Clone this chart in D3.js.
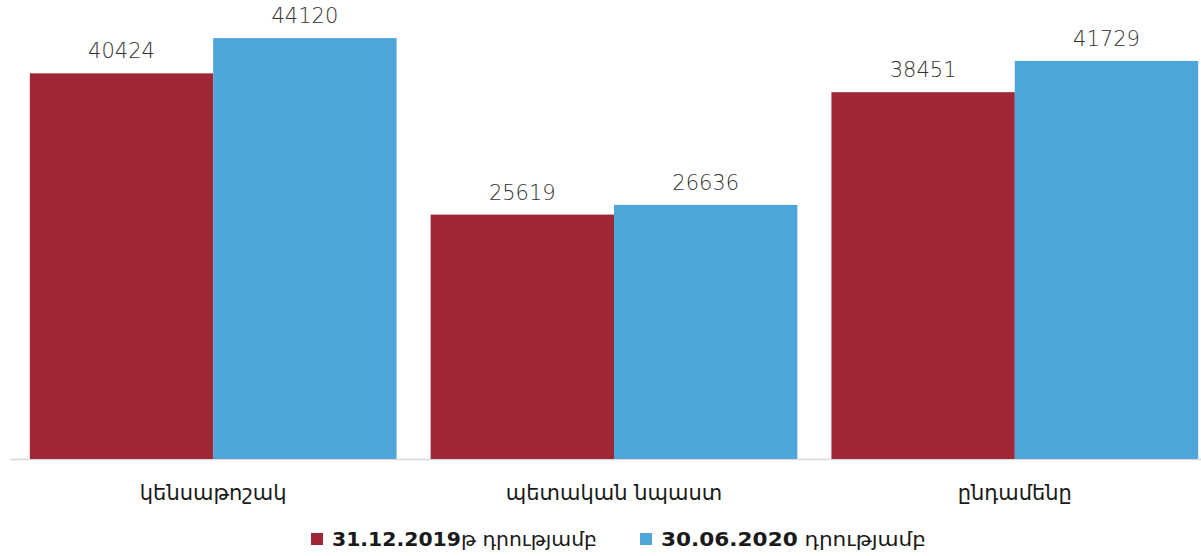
<!DOCTYPE html>
<html>
<head>
<meta charset="utf-8">
<script src="https://cdn.jsdelivr.net/npm/d3@7"></script>
<style>
body{margin:0;background:#fff;}
svg{display:block;}
</style>
</head>
<body>
<svg id="graph"></svg>
<script>
var categories = ["կենսաթոշակ", "պետական նպաստ", "ընդամենը"];
var seriesDates = ["31.12.2019", "30.06.2020"];
var seriesSuffix = ["թ դրությամբ", " դրությամբ"];
var dec2019 = [40424, 25619, 38451];
var jun2020 = [44120, 26636, 41729];
var colors = ["#A02836", "#4EA5D9"];

var screen = {width:1201, height:556};
var font = "'DejaVu Sans',sans-serif";

var svg = d3.select("#graph")
    .attr("width",screen.width)
    .attr("height",screen.height);

var xScale = d3.scaleBand()
    .domain(categories)
    .range([13,1215])
    .paddingInner(0.085)
    .paddingOuter(0.042);

var inner = d3.scaleBand()
    .domain([0,1])
    .range([0,xScale.bandwidth()]);

var yScale = d3.scaleLinear()
    .domain([0,50000])
    .range([459,-18]);

var rows = categories.map(function(c,i){
    return {cat:c, vals:[dec2019[i], jun2020[i]]};
});

// baseline
svg.append("line")
    .attr("x1",10).attr("x2",1201)
    .attr("y1",yScale(0)+0.5).attr("y2",yScale(0)+0.5)
    .attr("stroke","#d9d9d9")
    .attr("stroke-width",1.5);

var groups = svg.selectAll("g.grp")
    .data(rows)
    .enter()
    .append("g")
    .attr("class","grp")
    .attr("transform",function(d){return "translate("+xScale(d.cat)+",0)";});

groups.selectAll("rect")
    .data(function(d){return d.vals;})
    .enter()
    .append("rect")
    .attr("x",function(v,i){return inner(i);})
    .attr("width",inner.bandwidth())
    .attr("y",function(v){return yScale(v);})
    .attr("height",function(v){return yScale(0)-yScale(v);})
    .attr("fill",function(v,i){return colors[i];});

groups.selectAll("text.val")
    .data(function(d){return d.vals;})
    .enter()
    .append("text")
    .attr("class","val")
    .attr("x",function(v,i){return inner(i)+inner.bandwidth()/2;})
    .attr("y",function(v){return yScale(v)-15;})
    .attr("text-anchor","middle")
    .attr("font-family",font)
    .attr("font-size",21)
    .attr("font-weight",300)
    .attr("fill","#333")
    .text(function(v){return v;});

svg.selectAll("text.cat")
    .data(categories)
    .enter()
    .append("text")
    .attr("class","cat")
    .attr("x",function(c){return xScale(c)+xScale.bandwidth()/2;})
    .attr("y",500)
    .attr("text-anchor","middle")
    .attr("font-family",font)
    .attr("font-size",21)
    .attr("fill","#1a1a1a")
    .text(function(c){return c;});

// legend
var legendX = [311,640];
var legend = svg.selectAll("g.leg")
    .data(seriesDates)
    .enter()
    .append("g")
    .attr("class","leg")
    .attr("transform",function(d,i){return "translate("+legendX[i]+",533)";});
legend.append("rect")
    .attr("width",12).attr("height",12)
    .attr("fill",function(d,i){return colors[i];});
var lt = legend.append("text")
    .attr("x",21)
    .attr("y",13)
    .attr("font-family",font)
    .attr("font-size",20)
    .attr("fill","#1a1a1a")
    .attr("textLength",265)
    .attr("lengthAdjust","spacingAndGlyphs");
lt.append("tspan")
    .attr("font-weight","bold")
    .text(function(d){return d;});
lt.append("tspan")
    .text(function(d,i){return seriesSuffix[i];});
</script>
</body>
</html>
